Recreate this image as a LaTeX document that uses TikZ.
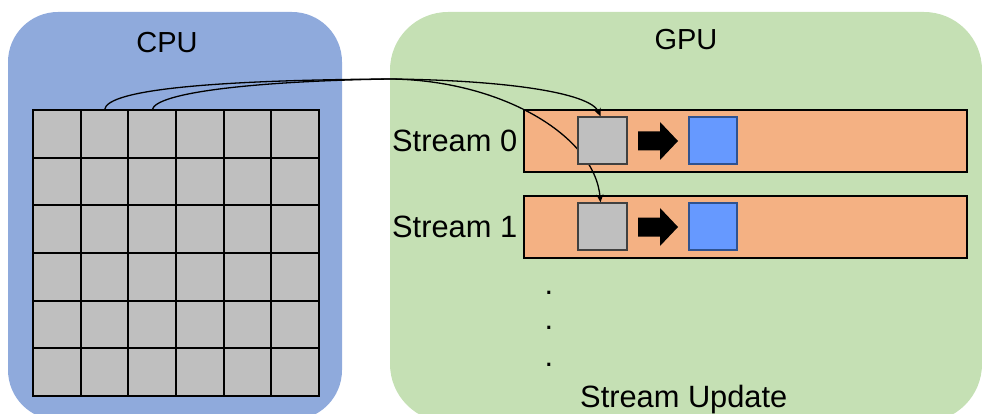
\documentclass[tikz,border=0pt]{standalone}
\usepackage{fontspec}
\setmainfont{Liberation Sans}
\usetikzlibrary{arrows.meta}
\pgfdeclarelayer{bg}
\pgfdeclarelayer{fg}
\pgfsetlayers{bg,main,fg}
\definecolor{cpublue}{HTML}{8FAADC}
\definecolor{gpugreen}{HTML}{C5E0B4}
\definecolor{streamorange}{HTML}{F4B183}
\definecolor{cellgray}{HTML}{BFBFBF}
\definecolor{resblue}{HTML}{6699FF}
\definecolor{resborder}{HTML}{2F528F}
\tikzset{
  lbl/.style={font=\fontsize{29}{35}\selectfont, inner sep=0pt},
  biglbl/.style={font=\fontsize{30.8}{37}\selectfont, inner sep=0pt},
  cell/.style={draw=black, line width=2pt, fill=cellgray, minimum width=47.67pt, minimum height=47.67pt, inner sep=0pt, outer sep=0pt},
  streambox/.style={draw=black, line width=1.5pt, fill=streamorange, minimum width=443pt, minimum height=62pt, inner sep=0pt},
  inbox/.style={draw=black!75, line width=1.3pt, fill=cellgray, minimum width=49pt, minimum height=47pt, inner sep=0pt},
  outbox/.style={draw=resborder, line width=1.3pt, fill=resblue, minimum width=48pt, minimum height=47pt, inner sep=0pt},
  conn/.style={draw=black, line width=1.3pt, -{Stealth[length=8pt,width=7pt]}},
  blockarrow/.style={fill=black}
}
\begin{document}
\begin{tikzpicture}[x=1pt,y=-1pt]
\useasboundingbox (0,0) rectangle (982,414);
\begin{pgfonlayer}{bg}
  \fill[cpublue, rounded corners=50pt] (8,12) rectangle (342,420);
  \fill[gpugreen, rounded corners=58pt] (390,12) rectangle (982,422);
  \node[streambox] (s0) at (745.5,141) {};
  \node[streambox] (s1) at (745.5,227) {};
\end{pgfonlayer}
\node[lbl] (cpu) at (167,43) {CPU};
\node[lbl] (gpu) at (686,40) {GPU};
\foreach \r in {1,...,6}{
  \foreach \c in {1,...,6}{
    \node[cell] (c\r\c) at ({33+(\c-0.5)*47.67},{110+(\r-0.5)*47.67}) {};
  }
}
\node[biglbl, anchor=west] (l0) at (392,141) {Stream 0};
\node[biglbl, anchor=west] (l1) at (392,227) {Stream 1};
\begin{pgfonlayer}{fg}
  \node[inbox] (g0) at (602.5,140.5) {};
  \node[outbox] (b0) at (713,140.5) {};
  \node[inbox] (g1) at (602.5,226.5) {};
  \node[outbox] (b1) at (713,226.5) {};
  \foreach \yy in {141,227}{
    \fill[blockarrow] (638,\yy-9.5) -- (660,\yy-9.5) -- (660,\yy-19) -- (678,\yy) -- (660,\yy+19) -- (660,\yy+9.5) -- (638,\yy+9.5) -- cycle;
  }
\end{pgfonlayer}
\draw[conn] (c12.north) .. controls (106,88) and (230,80) .. (390,79)
  .. controls (500,80) and (590,92) .. ([xshift=-2pt]g0.north);
\draw[conn] (c13.north) .. controls (155,92) and (260,81) .. (390,79)
  .. controls (500,80) and (595,135) .. ([xshift=-2pt]g1.north);
\node[biglbl] (d1) at (549,293) {.};
\node[biglbl] (d2) at (549,328) {.};
\node[biglbl] (d3) at (549,365) {.};
\node[biglbl, anchor=base west] (upd) at (580,407) {Stream Update};
\end{tikzpicture}
\end{document}
